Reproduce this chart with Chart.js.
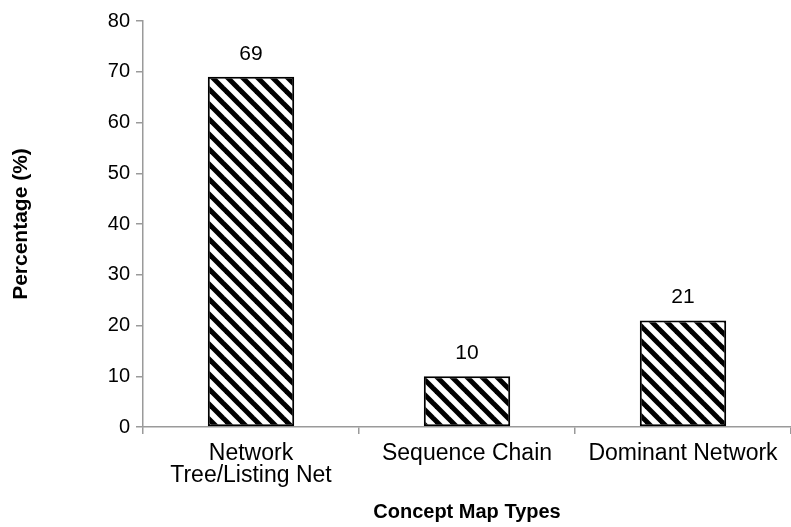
<!DOCTYPE html>
<html>
<head>
<meta charset="utf-8">
<script src="https://cdn.jsdelivr.net/npm/chart.js@4"></script>
<style>
  html, body { margin: 0; padding: 0; background: #ffffff; }
  #wrap { width: 791px; height: 527px; position: relative; }
</style>
</head>
<body>
<div id="wrap"><canvas id="chart" width="791" height="527"></canvas></div>
<script>
// Concept map types and their share of maps (%)
const categories = [["Network", "Tree/Listing Net"], "Sequence Chain", "Dominant Network"];
const percentages = [69, 10, 21];
const yTicks = [0, 10, 20, 30, 40, 50, 60, 70, 80];

const FONT = "'Liberation Sans', Arial, Helvetica, sans-serif";
const AXIS_GREY = '#9a9a9a';

// Diagonal "\" hatch used to fill the bars
function hatchPattern() {
  const s = 15;
  const c = document.createElement('canvas');
  c.width = s; c.height = s;
  const g = c.getContext('2d');
  g.fillStyle = '#ffffff';
  g.fillRect(0, 0, s, s);
  g.strokeStyle = '#000000';
  g.lineWidth = 5;
  g.lineCap = 'square';
  for (const x0 of [-s, 0, s]) {
    g.beginPath();
    g.moveTo(x0, 0);
    g.lineTo(x0 + s, s);
    g.stroke();
  }
  const ctx = document.getElementById('chart').getContext('2d');
  return ctx.createPattern(c, 'repeat');
}

// Value printed above each bar
const barValueLabels = {
  id: 'barValueLabels',
  afterDatasetsDraw(chart) {
    const ctx = chart.ctx;
    const meta = chart.getDatasetMeta(0);
    ctx.save();
    ctx.font = '21px ' + FONT;
    ctx.fillStyle = '#000000';
    ctx.textAlign = 'center';
    ctx.textBaseline = 'alphabetic';
    meta.data.forEach((bar, i) => {
      ctx.fillText(String(percentages[i]), bar.x, bar.y - 17);
    });
    ctx.restore();
  }
};

new Chart(document.getElementById('chart'), {
  type: 'bar',
  data: {
    labels: categories,
    datasets: [{
      data: percentages,
      backgroundColor: hatchPattern(),
      borderColor: '#000000',
      borderWidth: 2,
      borderSkipped: false,
      categoryPercentage: 1.0,
      barPercentage: 0.4
    }]
  },
  options: {
    responsive: false,
    animation: false,
    devicePixelRatio: 1,
    layout: { padding: { top: 21, right: 0, bottom: 0, left: 0 } },
    plugins: {
      legend: { display: false },
      tooltip: { enabled: false }
    },
    scales: {
      x: {
        offset: true,
        border: { display: true, color: AXIS_GREY, width: 1.5 },
        grid: {
          offset: true,
          drawOnChartArea: false,
          drawTicks: true,
          tickLength: 7,
          color: AXIS_GREY,
          lineWidth: 1.5
        },
        ticks: {
          color: '#000000',
          font: { family: FONT, size: 23, lineHeight: 0.96 },
          padding: 9,
          maxRotation: 0,
          autoSkip: false
        },
        title: {
          display: true,
          text: 'Concept Map Types',
          color: '#000000',
          font: { family: FONT, size: 20, weight: 'bold' },
          padding: { top: 4, bottom: 3 }
        },
        afterFit(scale) { scale.height = 100; }
      },
      y: {
        min: 0,
        max: 80,
        afterBuildTicks(scale) {
          scale.ticks = yTicks.map(v => ({ value: v }));
        },
        border: { display: true, color: AXIS_GREY, width: 1.5 },
        grid: {
          drawOnChartArea: false,
          drawTicks: true,
          tickLength: 7,
          color: AXIS_GREY,
          lineWidth: 1.5
        },
        ticks: {
          color: '#000000',
          font: { family: FONT, size: 20 },
          padding: 6
        },
        title: {
          display: true,
          text: 'Percentage (%)',
          color: '#000000',
          font: { family: FONT, size: 21, weight: 'bold' },
          padding: { top: 9, bottom: 0 }
        },
        afterFit(scale) { scale.width = 143; }
      }
    }
  },
  plugins: [barValueLabels]
});
</script>
</body>
</html>
